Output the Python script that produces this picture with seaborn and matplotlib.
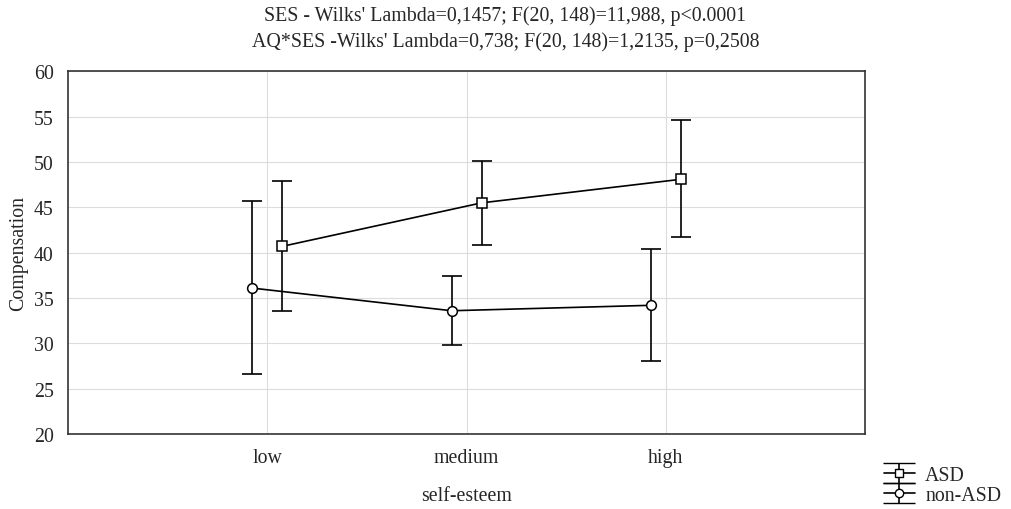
import numpy as np
import pandas as pd
import matplotlib
matplotlib.use("Agg")
import matplotlib.pyplot as plt
import seaborn as sns

# Dados (médias e limites do IC)
niveis = ['low', 'medium', 'high']
grupos = ['ASD', 'non-ASD']
asd_media = [40.7, 45.5, 48.1]
asd_inf = [33.6, 40.8, 41.7]
asd_sup = [47.9, 50.1, 54.6]
nasd_media = [36.1, 33.6, 34.2]
nasd_inf = [26.6, 29.8, 28.1]
nasd_sup = [45.7, 37.4, 40.4]

titulo = ("SES - Wilks' Lambda=0,1457; F(20, 148)=11,988, p<0.0001\n"
          "AQ*SES -Wilks' Lambda=0,738; F(20, 148)=1,2135, p=0,2508")

df = pd.DataFrame({
    'self-esteem': niveis * 2,
    'grupo': ['ASD'] * 3 + ['non-ASD'] * 3,
    'Compensation': asd_media + nasd_media,
    'inf': asd_inf + nasd_inf,
    'sup': asd_sup + nasd_sup,
})

sns.set_style('whitegrid', {'grid.color': '#dcdcdc', 'axes.edgecolor': '#333333'})
plt.rcParams['font.family'] = ['Liberation Serif', 'DejaVu Serif']
fs = 14.3

fig, ax = plt.subplots(figsize=(10.11, 5.10), dpi=100)
fig.subplots_adjust(left=0.067, right=0.856, top=0.858, bottom=0.147)

marcadores = {'ASD': 's', 'non-ASD': 'o'}
desloc = {'ASD': 0.075, 'non-ASD': -0.075}

# médias com linhas (seaborn), deslocadas por grupo
sns.pointplot(data=df, x='self-esteem', y='Compensation', hue='grupo',
              hue_order=['non-ASD', 'ASD'], order=niveis, dodge=0.15,
              markers=['o', 's'], linestyles='-', palette=['black', 'black'],
              errorbar=None, markersize=7, linewidth=1.2,
              markerfacecolor='white', markeredgewidth=1.1, ax=ax, legend=False)
for col in ax.collections:
    col.set_facecolor('white')
for ln in ax.lines:
    ln.set_markerfacecolor('white')

# barras de erro (IC)
for g in grupos:
    sub = df[df['grupo'] == g]
    pos = np.arange(len(niveis)) + desloc[g]
    media = sub['Compensation'].values
    yerr = [media - sub['inf'].values, sub['sup'].values - media]
    ax.errorbar(pos, media, yerr=yerr, fmt='none', ecolor='black',
                elinewidth=1.2, capsize=7.2, capthick=1.2, zorder=1)

ax.set_ylim(20, 60)
ax.set_xlim(-1, 3)
ax.set_yticks(range(20, 61, 5))
ax.xaxis.grid(True)
ax.yaxis.grid(True)
ax.set_axisbelow(True)
ax.tick_params(labelsize=fs, length=3, direction='in', color='#555555', pad=10)
ax.set_xlabel('self-esteem', fontsize=fs, labelpad=14)
ax.set_ylabel('Compensation', fontsize=fs, labelpad=4)
for s in ax.spines.values():
    s.set_linewidth(1.2)
    s.set_color('#333333')

fig.suptitle(titulo, fontsize=fs, x=0.5, y=0.988, linespacing=1.42)

# legenda no estilo barra de erro
alcas = []
for g in grupos:
    h = ax.errorbar([np.nan], [np.nan], yerr=[np.nan], fmt='-' + marcadores[g],
                    color='black', mfc='white', ms=6, lw=1.2, capsize=11.5,
                    elinewidth=1.2, label=g)
    alcas.append(h)
fig.legend(handles=alcas, labels=grupos, loc='lower right',
           bbox_to_anchor=(1.008, -0.027), frameon=False, fontsize=fs,
           handlelength=1.6, handletextpad=0.5, labelspacing=0.05)

plt.savefig('out.png', dpi=100)
